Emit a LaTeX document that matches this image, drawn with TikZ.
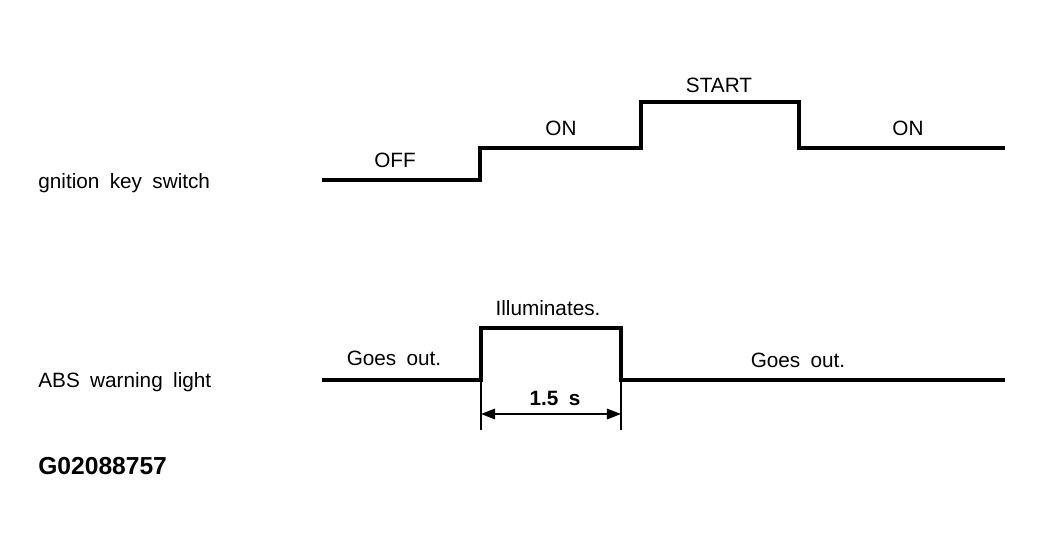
\documentclass[tikz,border=0pt]{standalone}
\usepackage{fontspec}
\setmainfont{Liberation Sans}[WordSpace=1.8]
\usepackage{tikz}
\usetikzlibrary{arrows.meta,positioning,calc}

\begin{document}
\begin{tikzpicture}[x=0.02cm,y=-0.02cm,
		wave/.style = {line width=2pt,line join=miter},
		dim/.style = {line width=0.9pt},
		lbl/.style = {inner sep=0pt,font=\fontsize{11.8}{13}\selectfont},
		sig/.style = {lbl,anchor=west}]
	\useasboundingbox (0,0) rectangle (1044,550);

	% Ignition key switch
	\node[sig] (ign) at (38,183) {gnition key switch};
	\coordinate (i0) at (322,180);
	\coordinate (i1) at (480,180);
	\coordinate (i2) at (480,148);
	\coordinate (i3) at (641,148);
	\coordinate (i4) at (641,102);
	\coordinate (i5) at (799,102);
	\coordinate (i6) at (799,148);
	\coordinate (i7) at (1005,148);
	\draw[wave] (i0) -- (i1) -- (i2) -- (i3) -- (i4) -- (i5) -- (i6) -- (i7);
	\node[lbl] (off) at (395,160) {OFF};
	\node[lbl] (on1) at (561,128) {ON};
	\node[lbl] (start) at (719,85) {START};
	\node[lbl] (on2) at (908,128) {ON};

	% ABS warning light
	\node[sig] (abs) at (38,382) {ABS warning light};
	\coordinate (a0) at (322,380);
	\coordinate (a1) at (481,380);
	\coordinate (a2) at (481,328);
	\coordinate (a3) at (621,328);
	\coordinate (a4) at (621,380);
	\coordinate (a5) at (1005,380);
	\draw[wave] (a0) -- (a1) -- (a2) -- (a3) -- (a4) -- (a5);
	\node[lbl] (out1) at (394,358) {Goes out.};
	\node[lbl] (illum) at (548,308) {Illuminates.};
	\node[lbl] (out2) at (798,360) {Goes out.};

	% 1.5 s
	\coordinate (d1) at (481,430);
	\coordinate (d2) at (621,430);
	\draw[dim] (a1) -- (d1);
	\draw[dim] (a4) -- (d2);
	\draw[dim,{Triangle[length=8pt,width=6pt]}-{Triangle[length=8pt,width=6pt]}] ($(d1)+(0,-16)$) -- ($(d2)+(0,-16)$);
	\node[lbl,font=\bfseries\fontsize{11.8}{13}\selectfont] (dur) at (555,398) {1.5 s};

	\node[sig,font=\bfseries\fontsize{14}{16}\selectfont] (code) at (38,466) {G02088757};
\end{tikzpicture}
\end{document}
